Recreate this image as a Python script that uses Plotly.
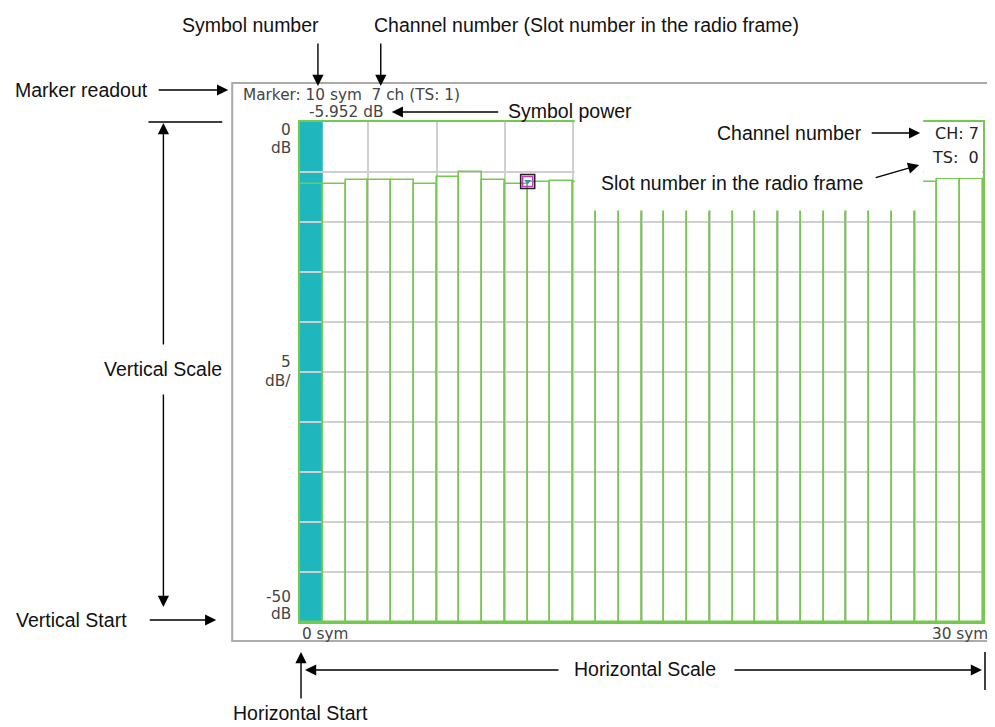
import plotly.graph_objects as go

# ---------------- data ----------------
symbols = list(range(30))
symbol_power_db = [-6.2, -6.2, -5.8, -5.8, -5.8, -6.2, -5.5, -5.0, -5.8, -6.2,
                   -5.952, -5.9, -6.0, -6.0, -6.0, -6.0, -6.0, -6.0, -6.0, -6.0,
                   -6.0, -6.0, -6.0, -6.0, -6.0, -6.0, -6.0, -6.0, -5.7, -5.7]
Y_START = -50          # vertical start (dB)
Y_TOP = 0              # top of scale (dB)
Y_DIV = 5              # dB / div
X_START = 0
X_END = 30
X_DIV = 3
SELECTED_SYMBOL = 0
MARKER_SYMBOL = 10
MARKER_CH = 7
MARKER_TS = 1
MARKER_POWER = -5.952
CH_NUMBER = 7
TS_NUMBER = 0

# ---------------- styling ----------------
GREEN = "#74c94f"
CYAN = "#1fb7bd"
GRID = "#cfcfcf"
W, H = 995, 727
OFF = 8                       # page body margin
L, R, T, B = 300, 985, 122, 622   # plot area in page pixels
PW, PH = R - L, B - T


def px(x):
    return (x - L) / PW


def py(y):
    return (B - y) / PH


ANN_FONT = dict(family="Liberation Sans, Arial", size=19.5, color="#111")
SCR_FONT = dict(family="DejaVu Sans", size=15.3, color="#444")

fig = go.Figure()

# bars (outlines only)
fig.add_trace(go.Bar(
    x=[s + 0.5 for s in symbols],
    y=[v - Y_START for v in symbol_power_db],
    base=Y_START,
    width=1,
    marker=dict(color="rgba(0,0,0,0)", line=dict(color=GREEN, width=1.6)),
    hoverinfo="skip",
))

# marker
mx, my = [MARKER_SYMBOL], [MARKER_POWER]
fig.add_trace(go.Scatter(x=mx, y=my, mode="markers", cliponaxis=False,
                         marker=dict(symbol="square-open", size=14, color="#222", line=dict(width=1.6))))
fig.add_trace(go.Scatter(x=mx, y=my, mode="markers", cliponaxis=False,
                         marker=dict(symbol="square-open", size=10, color="#c23bbf", line=dict(width=1.4))))
fig.add_trace(go.Scatter(x=mx, y=my, mode="markers", cliponaxis=False,
                         marker=dict(symbol="triangle-down", size=6, color="#2a9d9d")))

shapes = []
# selected symbol column (under grid)
shapes.append(dict(type="rect", xref="x", yref="y", layer="below",
                   x0=SELECTED_SYMBOL, x1=SELECTED_SYMBOL + 1, y0=Y_START, y1=Y_TOP,
                   fillcolor=CYAN, line=dict(width=0)))
# white cover behind callout texts
shapes.append(dict(type="rect", xref="paper", yref="paper", layer="above",
                   x0=px(575.5), x1=px(925), y0=py(210.5), y1=py(85),
                   fillcolor="white", line=dict(width=0)))
# CH / TS box
shapes.append(dict(type="rect", xref="paper", yref="paper", layer="above",
                   x0=px(925.5), x1=px(984), y0=py(178), y1=py(123),
                   fillcolor="white", line=dict(width=0)))
# outer instrument frame
shapes.append(dict(type="rect", xref="paper", yref="paper", layer="below",
                   x0=px(232), x1=px(992), y0=py(641), y1=py(83),
                   line=dict(color="#aaaaaa", width=2), fillcolor="rgba(0,0,0,0)"))
# plain lines
for (x0, y0, x1, y1) in [(148, 122, 222, 122), (987, 652, 987, 690)]:
    shapes.append(dict(type="line", xref="paper", yref="paper",
                       x0=px(x0), y0=py(y0), x1=px(x1), y1=py(y1),
                       line=dict(color="black", width=1.5)))

annotations = []


def text(t, x, y, xa="left", font=ANN_FONT):
    annotations.append(dict(text=t, x=px(x), y=py(y), xref="paper", yref="paper",
                            xanchor=xa, yanchor="middle", showarrow=False, font=font))


def arrow(hx, hy, tx, ty):
    annotations.append(dict(text="", x=px(hx), y=py(hy), xref="paper", yref="paper",
                            ax=tx - hx, ay=ty - hy, axref="pixel", ayref="pixel",
                            showarrow=True, arrowhead=2, arrowsize=1.6, arrowwidth=1.4,
                            arrowcolor="black", standoff=0, startstandoff=0))


# callouts
text("Symbol number", 321, 25, "right")
text("Channel number (Slot number in the radio frame)", 372, 25)
text("Marker readout", 12, 90)
text("Symbol power", 507, 111)
text("Channel number", 866, 133, "right")
text("Slot number in the radio frame", 867, 183, "right")
text("Vertical Scale", 163, 369, "center")
text("Vertical Start", 13, 620)
text("Horizontal Scale", 646, 669, "center")
text("Horizontal Start", 301, 713, "center")

arrow(318, 86, 318, 42)
arrow(381, 86, 381, 42)
arrow(228, 90, 157, 90)
arrow(392, 112, 500, 112)
arrow(922, 133, 872, 133)
arrow(921, 165, 876, 178)
arrow(163, 123, 163, 346)
arrow(163, 607, 163, 393)
arrow(216, 620, 148, 620)
arrow(305, 670, 560, 670)
arrow(984, 670, 735, 670)
arrow(301, 652, 301, 700)

# instrument screen texts
NB = "\u00a0"
text(f"Marker: {MARKER_SYMBOL} sym {NB}{MARKER_CH} ch (TS: {MARKER_TS})", 241, 95, font=SCR_FONT)
text(f"{MARKER_POWER:.3f} dB", 307, 112, font=SCR_FONT)
CH_FONT = dict(family="DejaVu Sans", size=16, color="#222")
text(f"CH: {CH_NUMBER}", 983, 133, "right", CH_FONT)
text(f"TS: {NB}{TS_NUMBER}", 983, 158, "right", CH_FONT)

for t, yv in [(f"{Y_TOP}", 130), ("dB", 148), (f"{Y_DIV}", 362), ("dB/", 381),
              (f"{Y_START}", 597), ("dB", 614)]:
    text(t, 293, yv, "right", SCR_FONT)
text(f"{X_START} sym", 300, 634, "left", SCR_FONT)
text(f"{X_END} sym", 992, 634, "right", SCR_FONT)

fig.update_layout(
    width=W - OFF, height=H - OFF,
    margin=dict(l=L - OFF, r=W - R, t=T - OFF, b=H - B, pad=0),
    paper_bgcolor="white", plot_bgcolor="white",
    showlegend=False, bargap=0,
    shapes=shapes, annotations=annotations,
    xaxis=dict(range=[X_START, X_END], dtick=X_DIV, tick0=X_START, showgrid=True,
               gridcolor=GRID, gridwidth=1.5, showticklabels=False, ticks="",
               zeroline=False, showline=True, mirror=True, linecolor=GREEN, linewidth=1.6),
    yaxis=dict(range=[Y_START, Y_TOP], dtick=Y_DIV, tick0=Y_START, showgrid=True,
               gridcolor=GRID, gridwidth=1.5, showticklabels=False, ticks="",
               zeroline=False, showline=True, mirror=True, linecolor=GREEN, linewidth=1.6),
)

fig.write_html("out.html")
